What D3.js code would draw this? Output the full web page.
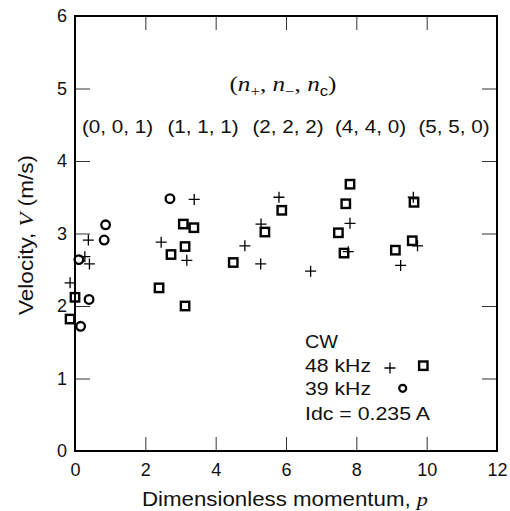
<!DOCTYPE html>
<head>
<meta charset="utf-8">
<title>Velocity vs dimensionless momentum</title>
<script src="https://cdn.jsdelivr.net/npm/d3@7"></script>
<style>
    body { margin: 0; background: #fff; }
    text { font-family: "Liberation Sans", Arial, sans-serif; fill: #111; }
    .serif { font-family: "Liberation Serif", "Times New Roman", serif; }
</style>
</head>

<body>
</body>
<script>
    // 48 kHz, squares  [p, V]
    var sq48 = [
        [-0.14, 1.82], [0.00, 2.12], [2.39, 2.25], [2.73, 2.71], [3.08, 3.13],
        [3.13, 2.82], [3.13, 2.00], [3.38, 3.08], [4.50, 2.60], [5.40, 3.02],
        [5.88, 3.32], [7.49, 3.01], [7.65, 2.73], [7.70, 3.41], [7.82, 3.68],
        [9.11, 2.77], [9.59, 2.90], [9.64, 3.43]
    ];
    // 48 kHz, crosses
    var plus48 = [
        [-0.14, 2.32], [0.28, 2.68], [0.38, 2.91], [0.41, 2.58], [2.45, 2.88],
        [3.18, 2.63], [3.39, 3.47], [4.83, 2.83], [5.28, 2.58], [5.29, 3.13],
        [5.80, 3.50], [6.70, 2.48], [7.77, 2.75], [7.82, 3.14], [9.26, 2.56],
        [9.62, 3.50], [9.74, 2.83]
    ];
    // 39 kHz, circles
    var circ39 = [
        [0.11, 2.64], [0.16, 1.72], [0.40, 2.09], [0.83, 2.91], [0.87, 3.12],
        [2.70, 3.48]
    ];

    var xTicks = [0, 2, 4, 6, 8, 10, 12];
    var yTicks = [0, 1, 2, 3, 4, 5, 6];
    var groupLabels = ["(0, 0, 1)", "(1, 1, 1)", "(2, 2, 2)", "(4, 4, 0)", "(5, 5, 0)"];
    var groupCenters = [117.5, 203, 288, 370.5, 454];   // pixel x of each label
    var legendLines = ["CW", "48 kHz", "39 kHz", "Idc = 0.235 A"];

    var W = 510, H = 511;
    var plotL = 75, plotR = 497, plotT = 16, plotB = 451;

    var svg = d3.select("body").append("svg")
        .attr("width", W)
        .attr("height", H);

    var x = d3.scaleLinear().domain([0, 12]).range([plotL, plotR]);
    var y = d3.scaleLinear().domain([0, 6]).range([plotB, plotT]);

    // axes with inward ticks
    function styleAxis(g) {
        g.select(".domain").remove();
        g.selectAll(".tick line").attr("stroke", "#333").attr("stroke-width", 1);
        g.selectAll(".tick text").style("font-size", "18px").attr("fill", "#111");
    }

    svg.append("g")
        .attr("transform", "translate(0," + plotB + ")")
        .call(d3.axisBottom(x).tickValues(xTicks).tickSize(-14).tickPadding(12).tickFormat(d3.format("d")))
        .call(styleAxis);
    svg.append("g")
        .attr("transform", "translate(0," + plotT + ")")
        .call(d3.axisTop(x).tickValues(xTicks).tickSize(-14).tickFormat(""))
        .call(styleAxis);
    svg.append("g")
        .attr("transform", "translate(" + plotL + ",0)")
        .call(d3.axisLeft(y).tickValues(yTicks).tickSize(-15).tickPadding(8).tickFormat(d3.format("d")))
        .call(styleAxis);
    svg.append("g")
        .attr("transform", "translate(" + plotR + ",0)")
        .call(d3.axisRight(y).tickValues(yTicks).tickSize(-15).tickFormat(""))
        .call(styleAxis);

    // frame
    svg.append("rect")
        .attr("x", plotL).attr("y", plotT)
        .attr("width", plotR - plotL).attr("height", plotB - plotT)
        .attr("fill", "none")
        .attr("stroke", "#000")
        .attr("stroke-width", 2);

    // axis titles
    var xt = svg.append("text")
        .attr("x", 285).attr("y", 506)
        .attr("text-anchor", "middle")
        .style("font-size", "19.5px")
        .attr("textLength", 286)
        .attr("lengthAdjust", "spacingAndGlyphs");
    xt.append("tspan").text("Dimensionless momentum, ");
    xt.append("tspan").attr("class", "serif").style("font-style", "italic").text("p");

    var yt = svg.append("text")
        .attr("transform", "translate(33,235) rotate(-90)")
        .attr("text-anchor", "middle")
        .style("font-size", "19.5px")
        .attr("textLength", 160)
        .attr("lengthAdjust", "spacingAndGlyphs");
    yt.append("tspan").text("Velocity, ");
    yt.append("tspan").attr("class", "serif").style("font-style", "italic").text("V");
    yt.append("tspan").text(" (m/s)");

    // (n+, n-, nc) header
    var hd = svg.append("text")
        .attr("class", "serif")
        .attr("x", 283).attr("y", 91)
        .attr("text-anchor", "middle")
        .style("font-size", "21px")
        .attr("textLength", 107)
        .attr("lengthAdjust", "spacingAndGlyphs");
    // kind: 0 plain, 1 italic n, 2 subscript, 3 subscript sans
    var parts = [["(", 0], ["n", 1], ["+", 2], [", ", 0], ["n", 1], ["\u2212", 2], [", ", 0], ["n", 1], ["c", 3], [")", 0]];
    parts.forEach(function(p, i) {
        var t = hd.append("tspan").text(p[0]);
        var prev = parts[i - 1];
        var dy = 0;
        if (p[1] >= 2) dy = 5;
        else if (prev && prev[1] >= 2) dy = -5;
        t.attr("dy", dy);
        if (p[1] == 1) t.style("font-style", "italic");
        if (p[1] >= 2) t.style("font-size", "14px");
        if (p[1] == 3) t.style("font-family", "Liberation Sans, Arial, sans-serif");
    });

    svg.selectAll(".grp")
        .data(groupLabels)
        .enter()
        .append("text")
        .attr("class", "grp")
        .attr("x", function(d, i) { return groupCenters[i]; })
        .attr("y", 133)
        .attr("text-anchor", "middle")
        .style("font-size", "18px")
        .attr("textLength", 71)
        .attr("lengthAdjust", "spacingAndGlyphs")
        .text(function(d) { return d; });

    // data marks
    svg.selectAll(".sq")
        .data(sq48)
        .enter()
        .append("rect")
        .attr("class", "sq")
        .attr("x", function(d) { return x(d[0]) - 4.2; })
        .attr("y", function(d) { return y(d[1]) - 4.2; })
        .attr("width", 8.4).attr("height", 8.4)
        .attr("fill", "none")
        .attr("stroke", "#000")
        .attr("stroke-width", 2.4);

    svg.selectAll(".pl")
        .data(plus48)
        .enter()
        .append("path")
        .attr("class", "pl")
        .attr("transform", function(d) { return "translate(" + x(d[0]) + "," + y(d[1]) + ")"; })
        .attr("d", "M-5.5,0H5.5M0,-5.5V5.5")
        .attr("stroke", "#000")
        .attr("stroke-width", 1.3);

    svg.selectAll(".ci")
        .data(circ39)
        .enter()
        .append("circle")
        .attr("class", "ci")
        .attr("cx", function(d) { return x(d[0]); })
        .attr("cy", function(d) { return y(d[1]); })
        .attr("r", 4.3)
        .attr("fill", "none")
        .attr("stroke", "#000")
        .attr("stroke-width", 2.3);

    // legend
    var legendBase = [348, 372, 395, 420];
    var legendWidths = [33, 66, 66, 125];
    svg.selectAll(".lg")
        .data(legendLines)
        .enter()
        .append("text")
        .attr("class", "lg")
        .attr("x", 305)
        .attr("y", function(d, i) { return legendBase[i]; })
        .style("font-size", "18.5px")
        .attr("textLength", function(d, i) { return legendWidths[i]; })
        .attr("lengthAdjust", "spacingAndGlyphs")
        .text(function(d) { return d; });

    svg.append("path")
        .attr("transform", "translate(390,368)")
        .attr("d", "M-5.5,0H5.5M0,-5.5V5.5")
        .attr("stroke", "#000").attr("stroke-width", 1.3);
    svg.append("rect")
        .attr("x", 423.3 - 4.2).attr("y", 365.7 - 4.2)
        .attr("width", 8.4).attr("height", 8.4)
        .attr("fill", "none").attr("stroke", "#000").attr("stroke-width", 2.4);
    svg.append("circle")
        .attr("cx", 402.7).attr("cy", 388.3).attr("r", 3.5)
        .attr("fill", "none").attr("stroke", "#000").attr("stroke-width", 2.2);
</script>
</html>
